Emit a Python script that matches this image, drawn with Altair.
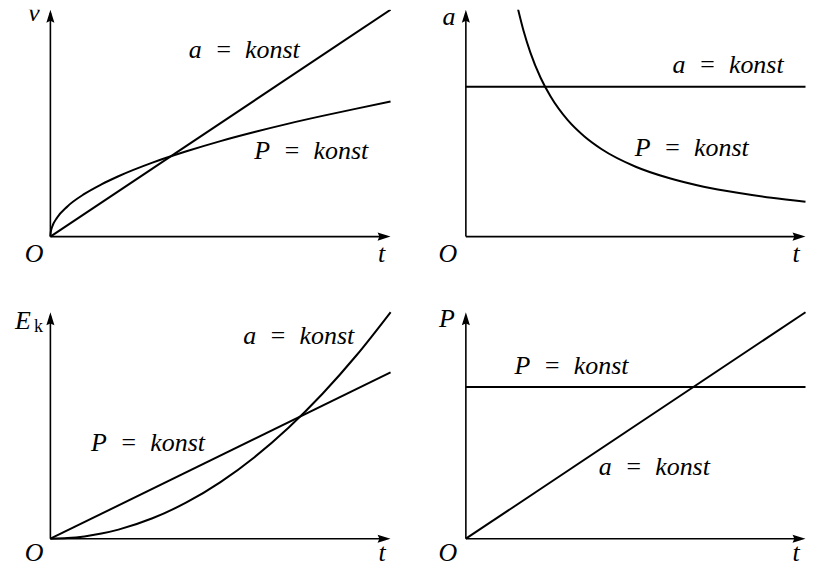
import altair as alt
import pandas as pd

# ---------------- values ----------------
# common time samples for straight lines
t_lin = [0.0, 1.0]

# Panel 1 : v(t)
v_aconst = [0.0, 1.0]
t_v_pconst = [0.0, 0.001, 0.005, 0.02, 0.05, 0.1, 0.15, 0.2, 0.3, 0.4, 0.5, 0.6, 0.7, 0.8, 0.9, 1.0]
v_pconst = [0.0, 0.019, 0.042, 0.084, 0.133, 0.188, 0.230, 0.266, 0.326, 0.376, 0.421, 0.461, 0.498, 0.532, 0.564, 0.595]

# Panel 2 : a(t)
a_aconst = [0.66, 0.66]
t_a_pconst = [0.153, 0.17, 0.19, 0.22, 0.25, 0.3, 0.35, 0.4, 0.5, 0.6, 0.7, 0.8, 0.9, 1.0]
a_pconst = [1.006, 0.906, 0.811, 0.700, 0.616, 0.513, 0.440, 0.385, 0.308, 0.257, 0.220, 0.193, 0.171, 0.154]

# Panel 3 : Ek(t)
ek_pconst = [0.0, 0.734]
t_ek_aconst = [0.0, 0.05, 0.1, 0.15, 0.2, 0.3, 0.4, 0.5, 0.6, 0.7, 0.8, 0.9, 1.0]
ek_aconst = [0.0, 0.0025, 0.01, 0.0225, 0.04, 0.09, 0.16, 0.25, 0.36, 0.49, 0.64, 0.81, 1.0]

# Panel 4 : P(t)
p_pconst = [0.67, 0.67]
p_aconst = [0.0, 1.0]

SP = "\u2002"
A_K = "a" + SP + "=" + SP + "konst"
P_K = "P" + SP + "=" + SP + "konst"

# labels: text, t-position, value-position (data units of each panel)
lab1_text = [A_K, P_K, "v", "O", "t"]
lab1_x = [0.570, 0.767, -0.048, -0.048, 0.974]
lab1_y = [0.787, 0.341, 0.952, -0.112, -0.112]

lab2_text = [A_K, P_K, "a", "O", "t"]
lab2_x = [0.772, 0.665, -0.050, -0.053, 0.972]
lab2_y = [0.719, 0.354, 0.934, -0.112, -0.112]

lab3_text = [A_K, P_K, "E", "O", "t"]
lab3_x = [0.730, 0.287, -0.081, -0.048, 0.975]
lab3_y = [0.860, 0.389, 0.926, -0.100, -0.100]
sub3_text = ["k"]
sub3_x = [-0.048]
sub3_y = [0.913]

lab4_text = [P_K, A_K, "P", "O", "t"]
lab4_x = [0.311, 0.555, -0.056, -0.053, 0.972]
lab4_y = [0.728, 0.283, 0.935, -0.100, -0.100]

# ---------------- chart construction ----------------
FONT = "Liberation Serif"
UP = "M0,0L-0.62,2L0,1.72L0.62,2Z"
RIGHT = "M0,0L-2,-0.62L-1.72,0L-2,0.62Z"


def curves_df(series):
    rows = []
    for name, ts, ys in series:
        for t, y in zip(ts, ys):
            rows.append({"t": t, "y": y, "s": name})
    return pd.DataFrame(rows)


def panel(series, texts, xs, ys, xdom, ydom, w, h, sub=None, clip_text=False):
    xs_ = alt.Scale(domain=xdom, nice=False, zero=False)
    ys_ = alt.Scale(domain=ydom, nice=False, zero=False)

    axes = pd.DataFrame({"x": [0.0, 0.0], "x2": [0.985, 0.0],
                         "y": [0.0, 0.0], "y2": [0.0, 0.985]})
    rules = alt.Chart(axes).mark_rule(color="black", strokeWidth=1.6, clip=True).encode(
        x=alt.X("x:Q", scale=xs_, axis=None), x2="x2:Q",
        y=alt.Y("y:Q", scale=ys_, axis=None), y2="y2:Q")

    tip_r = alt.Chart(pd.DataFrame({"x": [1.0], "y": [0.0]})).mark_point(
        shape=RIGHT, filled=True, size=169, opacity=1, color="black", strokeWidth=0, clip=True
    ).encode(x=alt.X("x:Q", scale=xs_, axis=None), y=alt.Y("y:Q", scale=ys_, axis=None))
    tip_u = alt.Chart(pd.DataFrame({"x": [0.0], "y": [1.0]})).mark_point(
        shape=UP, filled=True, size=169, opacity=1, color="black", strokeWidth=0, clip=True
    ).encode(x=alt.X("x:Q", scale=xs_, axis=None), y=alt.Y("y:Q", scale=ys_, axis=None))

    lines = alt.Chart(curves_df(series)).mark_line(
        color="black", strokeWidth=2, interpolate="monotone", clip=True
    ).encode(x=alt.X("t:Q", scale=xs_, axis=None),
             y=alt.Y("y:Q", scale=ys_, axis=None),
             detail="s:N", order="t:Q")

    lab = alt.Chart(pd.DataFrame({"x": xs, "y": ys, "txt": texts})).mark_text(
        font=FONT, fontStyle="italic", fontSize=26, align="center",
        baseline="alphabetic", color="black", clip=clip_text
    ).encode(x=alt.X("x:Q", scale=xs_, axis=None),
             y=alt.Y("y:Q", scale=ys_, axis=None), text="txt:N")

    layers = [rules, lines, tip_r, tip_u, lab]
    if sub is not None:
        st, sx, sy = sub
        layers.append(alt.Chart(pd.DataFrame({"x": sx, "y": sy, "txt": st})).mark_text(
            font=FONT, fontSize=18, align="left", baseline="alphabetic", color="black"
        ).encode(x=alt.X("x:Q", scale=xs_, axis=None),
                 y=alt.Y("y:Q", scale=ys_, axis=None), text="txt:N"))
    return alt.layer(*layers).properties(width=w, height=h)


XL = [-0.1217, 1.1041]
XR = [-0.1175, 1.0103]
YT = [-0.3187, 1.0]
YB = [-0.1176, 1.0145]

p1 = panel([("a", t_lin, v_aconst), ("P", t_v_pconst, v_pconst)],
           lab1_text, lab1_x, lab1_y, XL, YT, 418, 300, clip_text=True)
p2 = panel([("a", t_lin, a_aconst), ("P", t_a_pconst, a_pconst)],
           lab2_text, lab2_x, lab2_y, XR, YT, 384, 300, clip_text=True)
p3 = panel([("P", t_lin, ek_pconst), ("a", t_ek_aconst, ek_aconst)],
           lab3_text, lab3_x, lab3_y, XL, YB, 418, 257,
           sub=(sub3_text, sub3_x, sub3_y))
p4 = panel([("P", t_lin, p_pconst), ("a", t_lin, p_aconst)],
           lab4_text, lab4_x, lab4_y, XR, YB, 384, 257)

chart = alt.concat(p1, p2, p3, p4, columns=2, spacing=0, bounds="flush").configure_view(
    stroke="transparent").properties(padding=0, background="white")

chart.save("out.html", embed_options={"renderer": "svg", "actions": False})
